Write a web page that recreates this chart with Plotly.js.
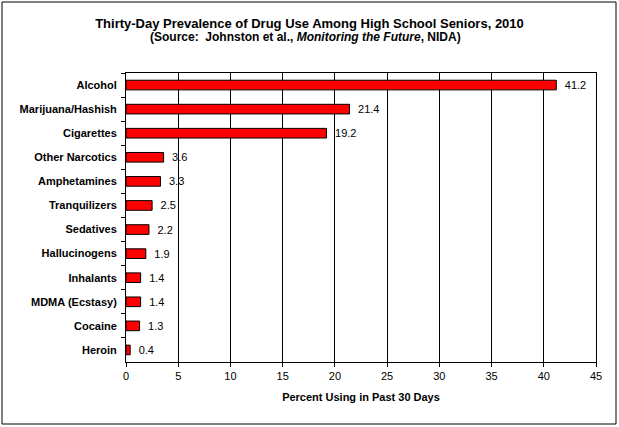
<!DOCTYPE html>
<html><head><meta charset="utf-8">
<script src="https://cdn.plot.ly/plotly-3.0.1.min.js"></script>
<style>body{margin:0;padding:0;background:#fff}#c{width:619px;height:427px}</style>
</head><body><div id="c"></div>
<script>
const categories = ["Alcohol","Marijuana/Hashish","Cigarettes","Other Narcotics","Amphetamines","Tranquilizers","Sedatives","Hallucinogens","Inhalants","MDMA (Ecstasy)","Cocaine","Heroin"];
const values = [41.2,21.4,19.2,3.6,3.3,2.5,2.2,1.9,1.4,1.4,1.3,0.4];
const tickVals = [0,5,10,15,20,25,30,35,40,45];
const titleLine1 = 'Thirty-Day Prevalence of Drug Use Among High School Seniors, 2010';
const titleLine2 = '(Source:  Johnston et al., <i>Monitoring the Future</i>, NIDA)';

const trace = {
  type: 'bar', orientation: 'h',
  x: values, y: categories,
  marker: {color: '#ff0000', line: {color: '#000', width: 1}},
  text: values.map(v => '\u2002' + v.toFixed(1)),
  textposition: 'outside',
  constraintext: 'none',
  textfont: {family: 'Arial, Liberation Sans', size: 11, color: '#000'},
  cliponaxis: false,
  hoverinfo: 'none'
};
const L = 126, R = 596, T = 73, B = 362;
const px = p => (p - L) / (R - L), py = p => (B - p) / (B - T);
const layout = {
  width: 619, height: 427,
  margin: {l: L, r: 619 - R, t: T, b: 427 - B, pad: 0},
  paper_bgcolor: '#fff', plot_bgcolor: '#fff',
  font: {family: 'Arial, Liberation Sans', size: 11, color: '#000'},
  showlegend: false,
  bargap: 0.6,
  title: {
    text: '<b>' + titleLine1 + '</b>',
    font: {size: 13, family: 'Arial, Liberation Sans'},
    x: 0.5, xref: 'container', xanchor: 'center', y: 1 - 23 / 427, yanchor: 'middle'
  },
  annotations: [{
    text: '<b>' + titleLine2 + '</b>', showarrow: false,
    xref: 'paper', yref: 'paper', x: px(305), y: py(37),
    xanchor: 'center', yanchor: 'middle',
    font: {size: 12, family: 'Arial, Liberation Sans', color: '#000'}
  }],
  xaxis: {
    range: [0, 45], tickvals: tickVals, ticktext: tickVals.map(String),
    showgrid: true, gridcolor: '#000', gridwidth: 1,
    showline: true, linecolor: '#000', linewidth: 1, mirror: true,
    ticks: 'outside', ticklen: 4, tickcolor: '#000',
    tickfont: {size: 11},
    zeroline: false, fixedrange: true,
    title: {text: '<b>Percent Using in Past 30 Days</b>', font: {size: 11}, standoff: 12}
  },
  yaxis: {
    autorange: 'reversed', type: 'category',
    showline: true, linecolor: '#000', linewidth: 1, mirror: true,
    ticks: 'outside', ticklen: 4, tickcolor: '#000', tickson: 'boundaries',
    showgrid: false, zeroline: false,
    tickfont: {size: 11}, ticklabelstandoff: 6,
    tickprefix: '<b>', ticksuffix: '</b>', fixedrange: true
  },
  shapes: [{
    type: 'rect', xref: 'paper', yref: 'paper',
    x0: px(2), x1: px(616), y0: py(424), y1: py(2),
    line: {color: '#000', width: 1}, fillcolor: 'rgba(0,0,0,0)', layer: 'below'
  }]
};
Plotly.newPlot('c', [trace], layout, {staticPlot: true, displayModeBar: false});
</script></body></html>
